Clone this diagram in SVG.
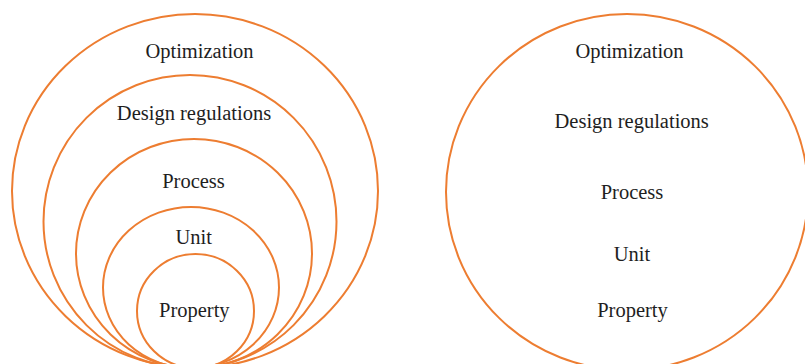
<svg xmlns="http://www.w3.org/2000/svg" width="805" height="364" viewBox="0 0 805 364">
  <style>
    .ring { fill: none; stroke: #ED7D31; stroke-width: 2; }
    .label { font-family: "Liberation Serif", "Times New Roman", serif; font-size: 20.5px; fill: #1e1e1e; text-anchor: middle; }
  </style>
  <rect width="805" height="364" fill="#ffffff"/>

  <!-- Nested layers, all touching at the bottom -->
  <g id="nested">
    <g id="n-optimization">
      <ellipse class="ring" cx="195" cy="191" rx="183" ry="177"/>
      <text class="label" x="199.5" y="57.5">Optimization</text>
    </g>
    <g id="n-design">
      <ellipse class="ring" cx="190" cy="221.5" rx="146.5" ry="146.5"/>
      <text class="label" x="194" y="120">Design regulations</text>
    </g>
    <g id="n-process">
      <ellipse class="ring" cx="194" cy="253.5" rx="118" ry="114.5"/>
      <text class="label" x="193.5" y="188">Process</text>
    </g>
    <g id="n-unit">
      <ellipse class="ring" cx="191" cy="287.5" rx="88" ry="80.5"/>
      <text class="label" x="193.7" y="244">Unit</text>
    </g>
    <g id="n-property">
      <ellipse class="ring" cx="195.5" cy="311" rx="58.5" ry="57"/>
      <text class="label" x="194.3" y="317">Property</text>
    </g>
  </g>

  <!-- Single circle holding all layers as a list -->
  <g id="flat">
    <g id="f-circle">
      <ellipse class="ring" cx="627" cy="192" rx="181" ry="178"/>
    </g>
    <g id="f-optimization"><text class="label" x="629.5" y="57.5">Optimization</text></g>
    <g id="f-design"><text class="label" x="631.7" y="127.5">Design regulations</text></g>
    <g id="f-process"><text class="label" x="632" y="199">Process</text></g>
    <g id="f-unit"><text class="label" x="632" y="260.5">Unit</text></g>
    <g id="f-property"><text class="label" x="632.5" y="317">Property</text></g>
  </g>

  <g id="connectors"/>
</svg>
